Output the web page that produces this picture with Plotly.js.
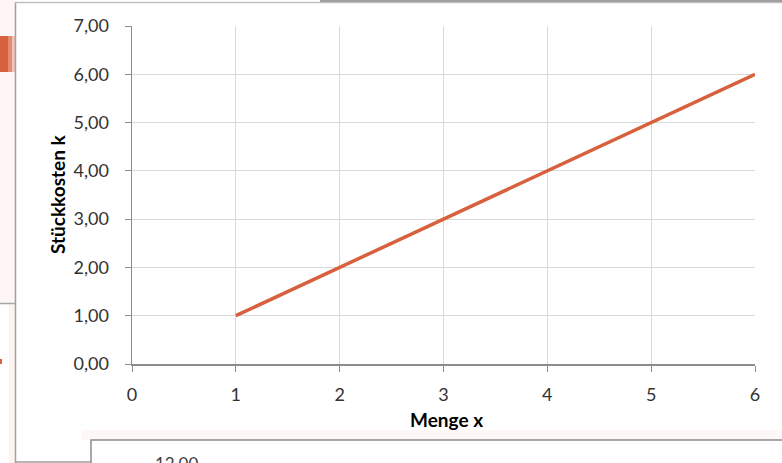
<!DOCTYPE html>
<html>
<head>
<meta charset="utf-8">
<script src="https://cdn.plot.ly/plotly-3.0.1.min.js"></script>
<style>
  html, body { margin: 0; padding: 0; background: #ffffff; }
  #chart { width: 782px; height: 463px; }
</style>
</head>
<body>
<div id="chart"></div>
<script>
// Stückkosten k in Abhängigkeit von der Menge x
const menge = [1, 2, 3, 4, 5, 6];
const stueckkosten = [1.00, 2.00, 3.00, 4.00, 5.00, 6.00];
const xTicks = [0, 1, 2, 3, 4, 5, 6];
const yTicks = [0, 1, 2, 3, 4, 5, 6, 7];

const W = 782, H = 463;
// pixel -> paper helpers (margins are zero, so paper spans the whole page)
const px = x => x / W;
const py = y => 1 - y / H;

const FONT = 'Lato, "Open Sans", sans-serif';
const LINE = '#D7603D';
const AXIS = '#8C8C8C';
const GRID = '#D9D9D9';

const trace = {
  x: menge,
  y: stueckkosten,
  type: 'scatter',
  mode: 'lines',
  line: { color: LINE, width: 3.5 },
  hoverinfo: 'skip'
};

// surrounding frame of the chart object and neighbouring elements
const shapes = [
  // left strip background
  { type: 'rect', xref: 'paper', yref: 'paper', x0: px(0), x1: px(15), y0: py(0), y1: py(303),
    fillcolor: '#FDF6F4', line: { width: 0 }, layer: 'below' },
  { type: 'rect', xref: 'paper', yref: 'paper', x0: px(9), x1: px(15), y0: py(303), y1: py(463),
    fillcolor: '#FDF4F2', line: { width: 0 }, layer: 'below' },
  { type: 'rect', xref: 'paper', yref: 'paper', x0: px(0), x1: px(8), y0: py(36), y1: py(72),
    fillcolor: '#D7603D', line: { width: 0 }, layer: 'below' },
  { type: 'rect', xref: 'paper', yref: 'paper', x0: px(8), x1: px(12), y0: py(36), y1: py(72),
    fillcolor: '#E48A70', line: { width: 0 }, layer: 'below' },
  { type: 'rect', xref: 'paper', yref: 'paper', x0: px(12), x1: px(15), y0: py(36), y1: py(72),
    fillcolor: '#F2C2B4', line: { width: 0 }, layer: 'below' },
  { type: 'line', xref: 'paper', yref: 'paper', x0: px(0), x1: px(15), y0: py(303.5), y1: py(303.5),
    line: { color: '#A8A8A8', width: 1.5 } },
  { type: 'rect', xref: 'paper', yref: 'paper', x0: px(0), x1: px(2), y0: py(359), y1: py(364),
    fillcolor: '#D7603D', line: { width: 0 } },
  // chart frame
  { type: 'line', xref: 'paper', yref: 'paper', x0: px(15.5), x1: px(15.5), y0: py(2), y1: py(463),
    line: { color: '#A0A0A0', width: 1.5 } },
  { type: 'line', xref: 'paper', yref: 'paper', x0: px(15), x1: px(782), y0: py(2.5), y1: py(2.5),
    line: { color: '#C0C0C0', width: 1.5 } },
  { type: 'rect', xref: 'paper', yref: 'paper', x0: px(320), x1: px(782), y0: py(0), y1: py(2),
    fillcolor: '#A0A0A0', line: { width: 0 } },
  { type: 'line', xref: 'paper', yref: 'paper', x0: px(15), x1: px(91), y0: py(462), y1: py(462),
    line: { color: '#A0A0A0', width: 1.5 } },
  // lower neighbouring chart box with soft shadow
  { type: 'rect', xref: 'paper', yref: 'paper', x0: px(82), x1: px(782), y0: py(430), y1: py(440),
    fillcolor: 'rgba(240,200,190,0.12)', line: { width: 0 } },
  { type: 'rect', xref: 'paper', yref: 'paper', x0: px(91), x1: px(790), y0: py(440), y1: py(470),
    fillcolor: '#FFFFFF', line: { color: '#8C8C8C', width: 1.5 } }
];

const annotations = [
  { text: '<b>Stückkosten k</b>', xref: 'paper', yref: 'paper', x: px(57), y: py(194),
    textangle: -90, showarrow: false, font: { family: FONT, size: 19, color: '#000000' },
    xanchor: 'center', yanchor: 'middle' },
  { text: '<b>Menge x</b>', xref: 'paper', yref: 'paper', x: px(446), y: py(419),
    showarrow: false, font: { family: FONT, size: 19, color: '#000000' },
    xanchor: 'center', yanchor: 'middle' },
  { text: '12,00', xref: 'paper', yref: 'paper', x: px(176), y: py(464),
    showarrow: false, font: { family: FONT, size: 17, color: '#404040' },
    xanchor: 'center', yanchor: 'middle' }
];

const layout = {
  width: W,
  height: H,
  margin: { l: 0, r: 0, t: 0, b: 0, pad: 0 },
  paper_bgcolor: '#FFFFFF',
  plot_bgcolor: '#FFFFFF',
  separators: ',.',
  showlegend: false,
  xaxis: {
    domain: [px(132), px(755)],
    range: [0, 6],
    tickvals: xTicks,
    ticktext: xTicks.map(String),
    showgrid: true, gridcolor: GRID, gridwidth: 1,
    zeroline: false,
    showline: true, linecolor: AXIS, linewidth: 1.5,
    ticks: 'outside', ticklen: 6, tickwidth: 1, tickcolor: AXIS,
    ticklabelstandoff: 8,
    tickfont: { family: FONT, size: 18, color: '#333333' },
    automargin: false, fixedrange: true
  },
  yaxis: {
    domain: [py(364), py(26)],
    range: [0, 7],
    tickvals: yTicks,
    tickformat: '.2f',
    showgrid: true, gridcolor: GRID, gridwidth: 1,
    zeroline: false,
    showline: true, linecolor: AXIS, linewidth: 1.5,
    ticks: 'outside', ticklen: 6, tickwidth: 1, tickcolor: AXIS,
    ticklabelstandoff: 12,
    tickfont: { family: FONT, size: 18, color: '#333333' },
    automargin: false, fixedrange: true
  },
  shapes: shapes,
  annotations: annotations
};

Plotly.newPlot('chart', [trace], layout, { displayModeBar: false, staticPlot: true });
</script>
</body>
</html>
